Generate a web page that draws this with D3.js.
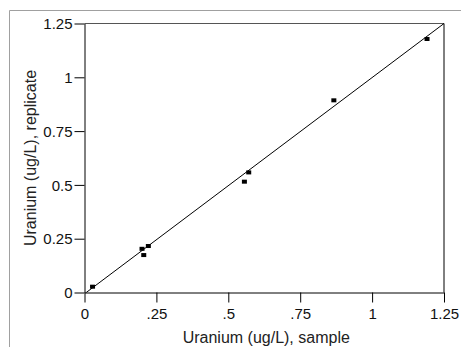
<!DOCTYPE html>
<html><head><meta charset="utf-8">
<script src="https://cdn.jsdelivr.net/npm/d3@7"></script>
<style>body{margin:0;background:#fff}svg{display:block}text{font-family:"Liberation Sans",Arial,sans-serif}</style>
</head><body>
<script>
const sampleValues = [0.028, 0.200, 0.206, 0.222, 0.556, 0.571, 0.867, 1.191];
const replicateValues = [0.027, 0.203, 0.174, 0.216, 0.515, 0.558, 0.893, 1.178];
const fitX = [0.006, 1.25];
const fitY = [0.0, 1.25];
const xTicks = [0, 0.25, 0.5, 0.75, 1, 1.25];
const xTickLabels = ["0", ".25", ".5", ".75", "1", "1.25"];
const yTicks = [0, 0.25, 0.5, 0.75, 1, 1.25];
const yTickLabels = ["0", "0.25", "0.5", "0.75", "1", "1.25"];
const xTitle = "Uranium (ug/L), sample";
const yTitle = "Uranium (ug/L), replicate";

const W = 461, H = 355;
const L = 84.5, R = 444, T = 23.5, B = 292.5;
const svg = d3.select("body").append("svg").attr("width", W).attr("height", H);

// outer frame
svg.append("line").attr("x1", 9.5).attr("x2", W).attr("y1", 10.5).attr("y2", 10.5).attr("stroke", "#a0a0a0").attr("stroke-width", 1);
svg.append("line").attr("x1", 9.5).attr("x2", 9.5).attr("y1", 10.5).attr("y2", 347).attr("stroke", "#a0a0a0").attr("stroke-width", 1);

const x = d3.scaleLinear().domain([0, 1.25]).range([L, R]);
const y = d3.scaleLinear().domain([0, 1.25]).range([B, T]);

// plot box top/right
svg.append("line").attr("x1", L).attr("x2", R).attr("y1", T).attr("y2", T).attr("stroke", "#555").attr("stroke-width", 1.2);
svg.append("line").attr("x1", R).attr("x2", R).attr("y1", T).attr("y2", B).attr("stroke", "#000");

const xAxis = svg.append("g").attr("transform", `translate(0,${B})`)
  .call(d3.axisBottom(x).tickValues(xTicks).tickFormat((d, i) => xTickLabels[i]).tickSize(10).tickSizeOuter(0));
const yAxis = svg.append("g").attr("transform", `translate(${L},0)`)
  .call(d3.axisLeft(y).tickValues(yTicks).tickFormat((d, i) => yTickLabels[i]).tickSize(10).tickSizeOuter(0));
[xAxis, yAxis].forEach(g => {
  g.attr("font-size", 15).attr("font-family", "Liberation Sans, Arial, sans-serif");
  g.select(".domain").attr("stroke", "#000");
  g.selectAll(".tick line").attr("stroke", "#000");
  g.selectAll(".tick text").attr("fill", "#111");
});
xAxis.selectAll(".tick text").attr("dy", "0.71em").attr("y", 15.4);
yAxis.selectAll(".tick text").attr("x", -12).attr("dy", "0.35em");

// fit line
svg.append("line")
  .attr("x1", x(fitX[0])).attr("y1", y(fitY[0]))
  .attr("x2", x(fitX[1])).attr("y2", y(fitY[1]))
  .attr("stroke", "#000").attr("stroke-width", 1);

// points
const pts = sampleValues.map((v, i) => ({x: v, y: replicateValues[i]}));
svg.append("g").selectAll("rect").data(pts).join("rect")
  .attr("x", d => x(d.x) - 2.5).attr("y", d => y(d.y) - 2)
  .attr("width", 5).attr("height", 4).attr("fill", "#000");

// titles
svg.append("text").attr("x", (L + R) / 2 + 2).attr("y", 343).attr("text-anchor", "middle")
  .attr("font-size", 16).attr("fill", "#222").text(xTitle);
svg.append("text").attr("transform", `translate(36,${(T + B) / 2}) rotate(-90)`).attr("text-anchor", "middle")
  .attr("font-size", 16).attr("fill", "#222").text(yTitle);
</script>
</body></html>
